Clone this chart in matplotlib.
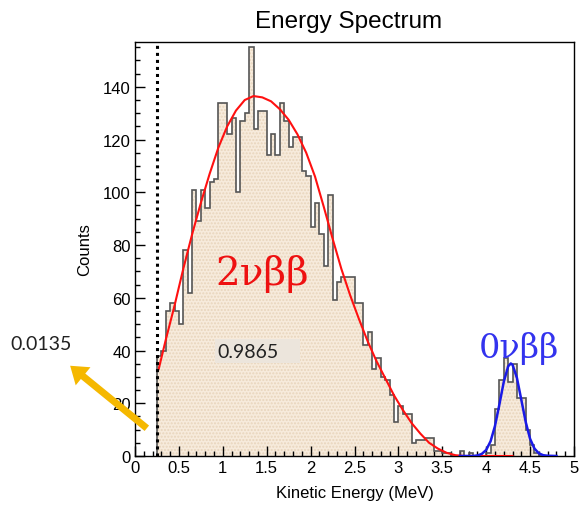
import matplotlib
matplotlib.use("Agg")
import matplotlib.pyplot as plt
import numpy as np
from matplotlib.patches import FancyArrowPatch, Rectangle
from matplotlib.ticker import MultipleLocator

# histogram: bins of 0.05 MeV starting at 0.25 MeV
bin_start = 0.25
bin_width = 0.05
counts = [38, 40, 55, 58, 55, 50, 78, 62, 101, 89,
          101, 94, 104, 105, 134, 134, 122, 128, 100, 127,
          130, 155, 124, 131, 131, 114, 122, 114, 134, 127,
          117, 121, 121, 108, 106, 87, 96, 84, 72, 99,
          59, 66, 68, 68, 68, 58, 58, 42, 47, 33,
          37, 30, 29, 23, 13, 19, 16, 16, 5, 6,
          6, 7, 7, 2, 2, 1, 1, 0, 0, 2,
          0, 1, 0, 0, 0, 1, 4, 18, 29, 37,
          28, 35, 22, 22, 10, 4, 1, 0]

# 2vbb fit curve
fit2_e = [0.27, 0.35, 0.45, 0.55, 0.65, 0.75, 0.85, 0.95, 1.05, 1.15,
          1.25, 1.35, 1.45, 1.55, 1.65, 1.75, 1.85, 1.95, 2.05, 2.15,
          2.25, 2.35, 2.45, 2.55, 2.65, 2.75, 2.85, 2.95, 3.05, 3.15,
          3.25, 3.35, 3.45, 3.55, 3.65, 3.75, 4.30]
fit2_c = [33, 44, 57, 71, 84, 96, 107, 117, 125, 131,
          135, 136.5, 136, 134.5, 131.5, 127.5, 122, 115, 106, 94.5,
          82.5, 71, 61, 52, 43.5, 36, 29.5, 23, 17.5, 12.5,
          8.5, 5, 2.8, 1.2, 0.3, 0, 0]

# 0vbb peak fit
fit0_e = [3.70, 3.85, 3.90, 3.95, 4.00, 4.05, 4.10, 4.15, 4.20, 4.25,
          4.28, 4.30, 4.35, 4.40, 4.45, 4.50, 4.55, 4.60, 4.65, 4.70, 4.80]
fit0_c = [0, 0, 0.2, 0.8, 2.3, 5.6, 11.4, 19.5, 28.1, 34.0,
          35.1, 34.6, 29.6, 21.3, 12.9, 6.5, 2.8, 1.0, 0.3, 0.1, 0]

threshold = 0.25
frac_low = "0.0135"
frac_high = "0.9865"

W, H = 579, 506
fig = plt.figure(figsize=(W / 100, H / 100), dpi=100)
ax = fig.add_axes([135 / W, 1 - 457 / H, (574 - 135) / W, (457 - 43) / H])

edges = bin_start + bin_width * np.arange(len(counts) + 1)
ax.stairs(counts, edges, fill=True, facecolor='#f7ebdc', edgecolor='#e8d5bc',
          linewidth=0, hatch='.....', zorder=1)
ax.stairs(counts, edges, baseline=0, color='#555555', lw=1.2, zorder=2)

ax.plot(fit2_e, fit2_c, color='#ff1010', lw=1.5, zorder=4)
ax.plot(fit0_e, fit0_c, color='#1a1ae6', lw=1.8, zorder=4)

ax.axvline(threshold, color='black', ls=(0, (1, 1.3)), lw=2.2, zorder=5)

ax.set_xlim(0, 5)
ax.set_ylim(0, 157)
ax.xaxis.set_major_locator(MultipleLocator(0.5))
ax.xaxis.set_minor_locator(MultipleLocator(0.1))
ax.yaxis.set_major_locator(MultipleLocator(20))
ax.yaxis.set_minor_locator(MultipleLocator(5))
ax.xaxis.set_major_formatter(lambda v, p: f"{v:g}")
ax.tick_params(which='both', direction='in', top=False, right=False,
               labelsize=12, pad=3)
ax.tick_params(which='major', length=7.5, width=1)
ax.tick_params(which='minor', length=3.8, width=1)
for lab in ax.get_xticklabels() + ax.get_yticklabels():
    lab.set_family('Liberation Sans')
for s in ax.spines.values():
    s.set_linewidth(1.0)

ax.set_xlabel("Kinetic Energy (MeV)", fontsize=12, family='Liberation Sans',
              labelpad=7)
ax.set_ylabel("Counts", fontsize=12, family='Liberation Sans', labelpad=8)

fig.text(349 / W, 1 - 28 / H, "Energy Spectrum", fontsize=17.5,
         family='Liberation Sans', ha='center', va='baseline')

fig.text(262 / W, 1 - 285 / H, "2νββ", fontsize=28, color='#ee1111',
         family='DejaVu Serif', ha='center', va='baseline')
fig.text(519 / W, 1 - 358 / H, "0νββ", fontsize=24, color='#3333ee',
         family='DejaVu Serif', ha='center', va='baseline')

fig.add_artist(Rectangle((215 / W, 1 - 364 / H), 85 / W, 24 / H,
                         transform=fig.transFigure, facecolor='#ece5dc',
                         edgecolor='none', zorder=6))
fig.text(248 / W, 1 - 358 / H, frac_high, fontsize=14, color='#222222',
         family='Lato', ha='center', va='baseline', zorder=7)
fig.text(41 / W, 1 - 350 / H, frac_low, fontsize=14, color='#222222',
         family='Lato', ha='center', va='baseline')

fig.add_artist(FancyArrowPatch((149 / W, 1 - 431 / H), (68 / W, 1 - 365 / H),
                               transform=fig.transFigure, color='#f5b800',
                               arrowstyle='simple,tail_width=0.42,head_width=1.4,head_length=1.0',
                               lw=0, mutation_scale=12, zorder=8))

fig.savefig("out.png", dpi=100)
